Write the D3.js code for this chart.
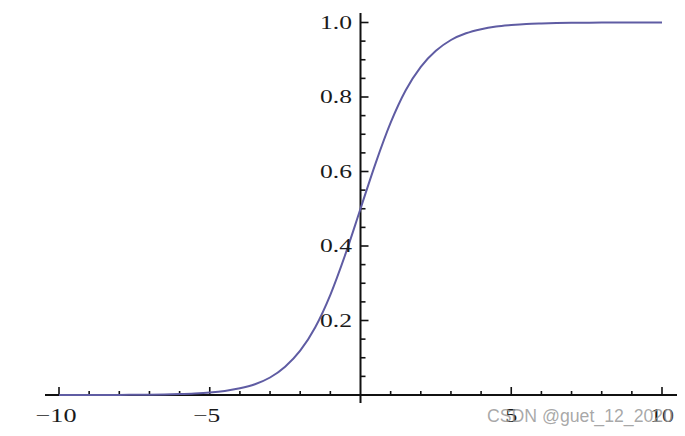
<!DOCTYPE html>
<html><head><meta charset="utf-8">
<script src="https://cdn.jsdelivr.net/npm/d3@7"></script>
<style>html,body{margin:0;padding:0;background:#fff;}svg{display:block;}</style>
</head><body>
<script>
const xs = [-10,-9.5,-9,-8.5,-8,-7.5,-7,-6.5,-6,-5.5,-5,-4.5,-4,-3.5,-3,-2.5,-2,-1.5,-1,-0.5,0,0.5,1,1.5,2,2.5,3,3.5,4,4.5,5,5.5,6,6.5,7,7.5,8,8.5,9,9.5,10];
const ys = [0.0000,0.0001,0.0001,0.0002,0.0003,0.0006,0.0009,0.0015,0.0025,0.0041,0.0067,0.011,0.018,0.029,0.047,0.076,0.119,0.182,0.269,0.378,0.5,0.622,0.731,0.818,0.881,0.924,0.953,0.971,0.982,0.989,0.993,0.996,0.9975,0.9985,0.9991,0.9994,0.9997,0.9998,0.9999,0.9999,1.0];
const xTicks = [-10,-5,5,10];
const xTickLabels = ["\u221210","\u22125","5","10"];
const yTicks = [0.2,0.4,0.6,0.8,1.0];
const yTickLabels = ["0.2","0.4","0.6","0.8","1.0"];

const W = 685, H = 436;
const svg = d3.select("body").append("svg").attr("width", W).attr("height", H);
const x = d3.scaleLinear().domain([-10,10]).range([59,662]);
const y = d3.scaleLinear().domain([0,1]).range([395,22.5]);

// x axis
const gx = svg.append("g");
gx.append("line").attr("x1",45).attr("x2",677).attr("y1",y(0)).attr("y2",y(0)).attr("stroke","#111").attr("stroke-width",2);
d3.range(-10,11,1).filter(d=>d!==0).forEach(d=>{
  const major = d%5===0;
  gx.append("line").attr("x1",x(d)).attr("x2",x(d)).attr("y1",y(0)).attr("y2",y(0)-(major?8:4)).attr("stroke","#111").attr("stroke-width",1.6);
});
// y axis
const gy = svg.append("g");
gy.append("line").attr("x1",x(0)).attr("x2",x(0)).attr("y1",13).attr("y2",403).attr("stroke","#111").attr("stroke-width",2);
d3.range(1,21,1).forEach(i=>{
  const v = i*0.05;
  const major = i%4===0;
  gy.append("line").attr("x1",x(0)).attr("x2",x(0)+(major?8:5)).attr("y1",y(v)).attr("y2",y(v)).attr("stroke","#111").attr("stroke-width",1.6);
});

// curve
const line = d3.line().x((d,i)=>x(xs[i])).y(d=>y(d)).curve(d3.curveMonotoneX);
svg.append("path").datum(ys).attr("d",line).attr("fill","none").attr("stroke","#5f5ca3").attr("stroke-width",2);

// labels
const font = "'Liberation Serif', 'Times New Roman', serif";
yTicks.forEach((t,i)=>{
  svg.append("text").attr("x",352).attr("y",y(t)).attr("dy","0.35em").attr("text-anchor","end")
    .attr("font-family",font).attr("font-size",18.5).attr("fill","#1a1a1a")
    .attr("textLength",32).attr("lengthAdjust","spacingAndGlyphs").text(yTickLabels[i]);
});
const xLen = [41,27,12,24];
xTicks.forEach((t,i)=>{
  svg.append("text").attr("x",x(t)-(t<0?3:0)).attr("y",422).attr("text-anchor","middle")
    .attr("font-family",font).attr("font-size",18.5).attr("fill","#1a1a1a")
    .attr("textLength",xLen[i]).attr("lengthAdjust","spacingAndGlyphs").text(xTickLabels[i]);
});

// watermark
svg.append("text").attr("x",673).attr("y",422).attr("text-anchor","end")
  .attr("font-family","'Liberation Sans', Arial, sans-serif").attr("font-size",18).attr("fill","#999").attr("fill-opacity",0.85)
  .attr("textLength",186).attr("lengthAdjust","spacingAndGlyphs")
  .text("CSDN @guet_12_2020");
</script>
</body></html>
